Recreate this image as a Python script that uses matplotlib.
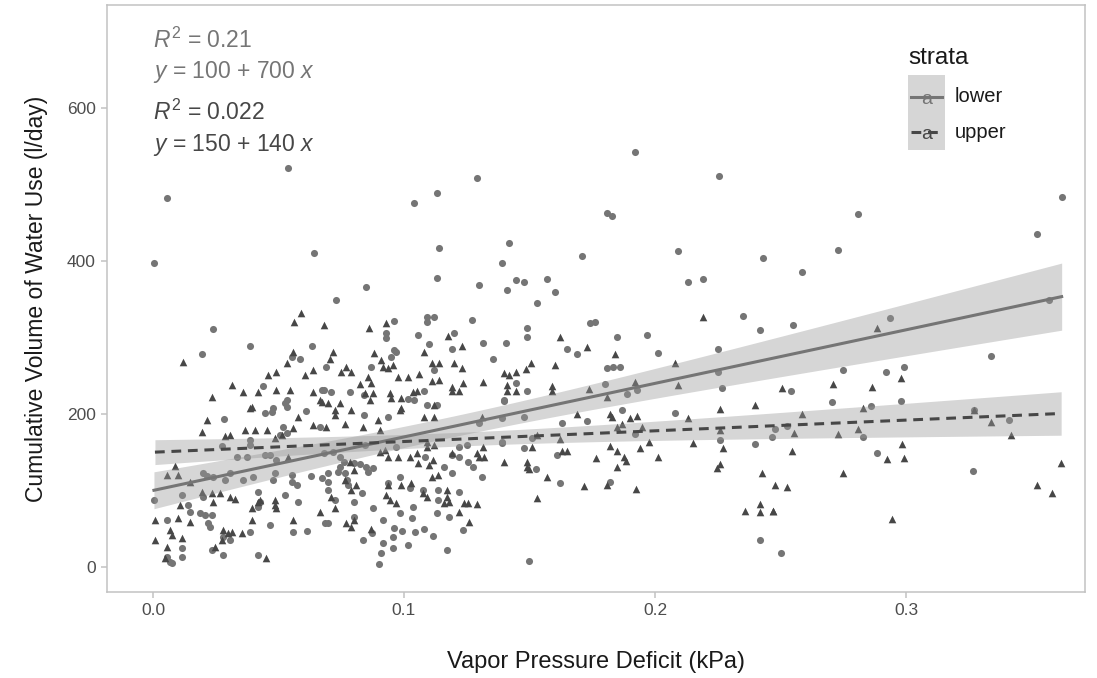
import numpy as np
import matplotlib
matplotlib.use("Agg")
import matplotlib.pyplot as plt
from matplotlib.patches import Rectangle
from matplotlib.lines import Line2D

plt.rcParams["font.family"] = ["Liberation Sans", "DejaVu Sans"]
plt.rcParams["mathtext.fontset"] = "custom"
plt.rcParams["mathtext.rm"] = "Liberation Sans"
plt.rcParams["mathtext.it"] = "Liberation Sans:italic"

# lower canopy trees
lower_vpd = [
    0.054, 0.0056, 0.0004, 0.064, 0.104, 0.113, 0.114, 0.113, 0.085, 0.073,
    0.096, 0.109, 0.112, 0.109, 0.024, 0.129, 0.192, 0.2255, 0.181, 0.183,
    0.142, 0.139, 0.130, 0.141, 0.1446, 0.148, 0.157, 0.160, 0.153, 0.171,
    0.209, 0.243, 0.213, 0.219, 0.127, 0.149, 0.174, 0.176, 0.197, 0.235,
    0.242, 0.362, 0.281, 0.352, 0.273, 0.2586, 0.255, 0.2936, 0.357, 0.334,
    0.275, 0.292, 0.299, 0.254, 0.2705, 0.286, 0.298, 0.327, 0.341, 0.248,
    0.2526, 0.2466, 0.283, 0.2884, 0.3267, 0.250, 0.149, 0.1406, 0.185, 0.165,
    0.169, 0.201, 0.225, 0.181, 0.1833, 0.186, 0.1446, 0.149, 0.140, 0.180,
    0.189, 0.193, 0.225, 0.2267, 0.148, 0.163, 0.173, 0.187, 0.208, 0.139,
    0.148, 0.151, 0.1526, 0.161, 0.162, 0.182, 0.192, 0.226, 0.240, 0.150,
    0.242, 0.139, 0.093, 0.093, 0.1056, 0.110, 0.119, 0.120, 0.1315, 0.1355,
    0.069, 0.087, 0.112, 0.096, 0.097, 0.095, 0.068, 0.071, 0.0785, 0.084,
    0.1016, 0.104, 0.108, 0.109, 0.113, 0.140, 0.084, 0.0936, 0.0665, 0.130,
    0.139, 0.125, 0.0845, 0.097, 0.068, 0.0717, 0.0745, 0.076, 0.0745, 0.0737,
    0.080, 0.0825, 0.085, 0.0857, 0.0876, 0.0765, 0.0773, 0.0777, 0.0697, 0.0697,
    0.0697, 0.1084, 0.116, 0.119, 0.119, 0.122, 0.122, 0.1255, 0.1275, 0.131,
    0.0984, 0.1024, 0.0936, 0.1076, 0.1135, 0.122, 0.0833, 0.0876, 0.080, 0.0725,
    0.0697, 0.080, 0.0916, 0.0984, 0.1032, 0.113, 0.118, 0.1235, 0.096, 0.0992,
    0.1044, 0.108, 0.1116, 0.0956, 0.0873, 0.0837, 0.0916, 0.0956, 0.1016, 0.0908,
    0.090, 0.117, 0.1036, 0.1135, 0.0386, 0.0195, 0.0633, 0.0586, 0.0554, 0.0438,
    0.0534, 0.0526, 0.0534, 0.0478, 0.0474, 0.0446, 0.061, 0.0673, 0.0283, 0.052,
    0.0534, 0.0506, 0.0386, 0.0386, 0.0275, 0.0446, 0.0466, 0.049, 0.0335, 0.0375,
    0.0307, 0.020, 0.0215, 0.024, 0.0287, 0.0359, 0.040, 0.0486, 0.048, 0.0554,
    0.0554, 0.0574, 0.063, 0.0673, 0.0116, 0.0004, 0.020, 0.042, 0.0526, 0.0578,
    0.0426, 0.042, 0.014, 0.0147, 0.0187, 0.0207, 0.0235, 0.022, 0.0227, 0.0056,
    0.0386, 0.0466, 0.0558, 0.0614, 0.0116, 0.0116, 0.0056, 0.0068, 0.0076, 0.0235,
    0.0279, 0.042, 0.0685, 0.0307, 0.0279,
]
lower_use = [
    522, 482, 397, 410, 476, 489, 417, 378, 366, 349,
    322, 327, 327, 320, 311, 508, 542, 511, 463, 459,
    424, 397, 369, 362, 375, 373, 376, 360, 345, 407,
    413, 404, 373, 376, 323, 312, 319, 320, 303, 328,
    310, 484, 461, 435, 414, 385, 316, 325, 349, 276,
    257, 255, 262, 230, 216, 210, 217, 205, 192, 180,
    184, 170, 170, 149, 125, 18, 301, 293, 301, 285,
    278, 280, 285, 260, 261, 261, 240, 230, 217, 239,
    226, 231, 255, 234, 196, 188, 191, 205, 201, 162,
    155, 169, 128, 146, 110, 111, 174, 166, 161, 8,
    35, 195, 306, 299, 303, 291, 285, 306, 293, 272,
    261, 261, 258, 284, 281, 275, 231, 229, 229, 225,
    220, 218, 230, 212, 212, 218, 199, 196, 183, 188,
    163, 159, 159, 157, 149, 150, 144, 137, 131, 124,
    136, 135, 131, 124, 129, 123, 114, 107, 123, 111,
    101, 144, 131, 123, 146, 144, 157, 137, 131, 118,
    118, 103, 110, 101, 101, 98, 97, 77, 85, 88,
    58, 65, 61, 71, 64, 71, 65, 48, 51, 47,
    46, 50, 41, 39, 44, 35, 31, 25, 29, 18,
    4, 22, 78, 88, 289, 278, 289, 272, 274, 237,
    218, 214, 209, 208, 203, 201, 204, 231, 193, 183,
    175, 172, 166, 159, 158, 146, 146, 140, 144, 144,
    123, 123, 119, 118, 114, 114, 118, 123, 114, 120,
    111, 107, 119, 116, 94, 88, 92, 98, 94, 85,
    85, 78, 81, 72, 71, 68, 68, 58, 52, 61,
    46, 55, 46, 47, 25, 13, 13, 6.5, 5, 22,
    16, 16, 58, 35, 39,
]

# upper canopy trees
upper_vpd = [
    0.059, 0.056, 0.068, 0.086, 0.093, 0.219, 0.2884, 0.2506, 0.271, 0.2865,
    0.298, 0.2586, 0.283, 0.327, 0.334, 0.2554, 0.273, 0.281, 0.342, 0.2546,
    0.2984, 0.2924, 0.299, 0.275, 0.248, 0.2526, 0.247, 0.2944, 0.3618, 0.352,
    0.358, 0.162, 0.173, 0.184, 0.1506, 0.1486, 0.140, 0.142, 0.1446, 0.141,
    0.141, 0.1446, 0.159, 0.159, 0.160, 0.192, 0.1737, 0.181, 0.208, 0.209,
    0.226, 0.240, 0.169, 0.182, 0.183, 0.190, 0.193, 0.213, 0.185, 0.187,
    0.195, 0.153, 0.162, 0.182, 0.194, 0.1976, 0.151, 0.215, 0.227, 0.226,
    0.140, 0.149, 0.149, 0.150, 0.163, 0.165, 0.1765, 0.185, 0.1876, 0.1885,
    0.201, 0.185, 0.157, 0.1717, 0.181, 0.1924, 0.153, 0.2247, 0.226, 0.2426,
    0.236, 0.242, 0.247, 0.242, 0.108, 0.1175, 0.123, 0.0717, 0.0705, 0.088,
    0.091, 0.077, 0.079, 0.075, 0.0916, 0.0936, 0.0956, 0.111, 0.114, 0.120,
    0.123, 0.0857, 0.1016, 0.106, 0.0976, 0.0825, 0.087, 0.111, 0.114, 0.119,
    0.119, 0.1235, 0.1315, 0.122, 0.0665, 0.0697, 0.0745, 0.0725, 0.0725, 0.079,
    0.0845, 0.0865, 0.0876, 0.0944, 0.095, 0.099, 0.0984, 0.099, 0.1036, 0.105,
    0.112, 0.112, 0.108, 0.131, 0.069, 0.0765, 0.0837, 0.0896, 0.0904, 0.0904,
    0.0924, 0.0936, 0.0976, 0.1024, 0.105, 0.1056, 0.109, 0.109, 0.112, 0.1116,
    0.110, 0.119, 0.129, 0.130, 0.132, 0.1315, 0.0785, 0.080, 0.0765, 0.081,
    0.079, 0.071, 0.0725, 0.0936, 0.099, 0.103, 0.111, 0.1135, 0.1076, 0.109,
    0.093, 0.0944, 0.097, 0.117, 0.118, 0.116, 0.124, 0.1255, 0.129, 0.117,
    0.122, 0.126, 0.077, 0.080, 0.079, 0.087, 0.0665, 0.012, 0.0235, 0.0215,
    0.0195, 0.0315, 0.0359, 0.042, 0.049, 0.0546, 0.0458, 0.049, 0.0534, 0.0558,
    0.0606, 0.0637, 0.0394, 0.0386, 0.0637, 0.0673, 0.0367, 0.0406, 0.0454, 0.0287,
    0.0307, 0.0578, 0.0637, 0.0558, 0.0486, 0.0514, 0.0538, 0.0088, 0.0056, 0.010,
    0.0147, 0.0195, 0.0235, 0.0267, 0.0307, 0.0327, 0.0108, 0.024, 0.0394, 0.042,
    0.0426, 0.0486, 0.0486, 0.049, 0.0008, 0.010, 0.0147, 0.0068, 0.0076, 0.0116,
    0.0008, 0.0056, 0.0048, 0.0279, 0.0275, 0.030, 0.0315, 0.0355, 0.0558, 0.045,
    0.0247, 0.0394,
]
upper_use = [
    332, 320, 316, 312, 319, 327, 312, 234, 239, 235,
    247, 200, 208, 205, 190, 175, 174, 180, 172, 152,
    161, 141, 142, 123, 107, 105, 73, 63, 136, 107,
    97, 301, 288, 278, 267, 259, 254, 251, 255, 238,
    230, 230, 237, 230, 264, 242, 233, 222, 267, 238,
    206, 212, 200, 200, 196, 195, 197, 195, 183, 187,
    183, 172, 167, 158, 155, 163, 157, 162, 155, 179,
    137, 137, 131, 128, 152, 152, 142, 152, 144, 139,
    144, 131, 118, 106, 107, 102, 90, 129, 135, 123,
    73, 72, 73, 82, 281, 302, 289, 281, 272, 280,
    271, 261, 255, 255, 261, 260, 264, 267, 267, 267,
    260, 248, 248, 252, 248, 239, 240, 243, 244, 235,
    230, 240, 242, 230, 218, 214, 214, 205, 199, 205,
    227, 218, 227, 227, 221, 221, 205, 208, 229, 230,
    212, 196, 196, 196, 183, 187, 183, 192, 179, 150,
    153, 144, 144, 144, 149, 136, 157, 163, 159, 140,
    133, 149, 149, 144, 144, 157, 137, 127, 114, 107,
    101, 92, 77, 107, 107, 110, 118, 120, 97, 92,
    94, 88, 84, 92, 85, 84, 84, 84, 82, 101,
    72, 59, 58, 61, 52, 50, 72, 268, 222, 192,
    176, 238, 229, 229, 231, 231, 251, 255, 267, 281,
    251, 258, 209, 208, 229, 216, 179, 179, 179, 171,
    172, 196, 186, 182, 169, 173, 144, 132, 120, 120,
    111, 98, 97, 97, 92, 89, 81, 85, 77, 85,
    88, 88, 81, 77, 61, 64, 59, 48, 42, 38,
    35, 26, 12, 48, 35, 44, 46, 44, 61, 12,
    26, 61,
]

# fitted equations reported on the panel
strata = ["lower", "upper"]
intercepts = [100, 150]
slopes = [700, 140]
r_squared = ["0.21", "0.022"]

colors = {"lower": "#757575", "upper": "#474747"}
markers = {"lower": "o", "upper": "^"}
linestyles = {"lower": "-", "upper": (0, (3.2, 2.2))}

fig = plt.figure(figsize=(10.97, 6.78), dpi=100)
ax = fig.add_axes([107 / 1097, 86 / 678, 978 / 1097, 587 / 678])

groups = {"lower": (lower_vpd, lower_use), "upper": (upper_vpd, upper_use)}

for name in strata:
    x = np.asarray(groups[name][0], dtype=float)
    y = np.asarray(groups[name][1], dtype=float)
    ax.scatter(x, y, s=26 if name == "lower" else 30, marker=markers[name],
               color=colors[name], linewidths=0, zorder=2)

for name, b0, b1 in zip(strata, intercepts, slopes):
    x = np.asarray(groups[name][0], dtype=float)
    y = np.asarray(groups[name][1], dtype=float)
    n = len(x)
    resid = y - (b0 + b1 * x)
    s = np.sqrt(np.sum(resid ** 2) / (n - 2))
    sxx = np.sum((x - x.mean()) ** 2)
    xs = np.linspace(x.min(), x.max(), 80)
    fit = b0 + b1 * xs
    se = s * np.sqrt(1 / n + (xs - x.mean()) ** 2 / sxx)
    ax.fill_between(xs, fit - 1.97 * se, fit + 1.97 * se, color="#999999",
                    alpha=0.4, linewidth=0, zorder=3)
    ax.plot(xs, fit, color=colors[name], linestyle=linestyles[name],
            linewidth=2.2, zorder=4)

ax.set_xlim(-0.0183, 0.3713)
ax.set_ylim(-32.7, 734.6)
ax.set_xticks([0.0, 0.1, 0.2, 0.3])
ax.set_xticklabels(["0.0", "0.1", "0.2", "0.3"])
ax.set_yticks([0, 200, 400, 600])
for sp in ax.spines.values():
    sp.set_color("#c2c2c2")
    sp.set_linewidth(1.1)
ax.tick_params(colors="#c2c2c2", labelcolor="#4d4d4d", labelsize=12.5,
               length=4, width=1.1, pad=4)
ax.set_xlabel("Vapor Pressure Deficit (kPa)", fontsize=17, color="#1a1a1a",
              labelpad=24)
ax.set_ylabel("Cumulative Volume of Water Use (l/day)", fontsize=16.5,
              color="#1a1a1a", labelpad=14)

# equation labels, one pair per stratum
eq_y = [0.940, 0.886, 0.818, 0.761]
for i, name in enumerate(strata):
    ax.text(0.047, eq_y[2 * i], r"$R^2$ = " + r_squared[i], transform=ax.transAxes,
            fontsize=16.5, color=colors[name], va="center")
    ax.text(0.047, eq_y[2 * i + 1],
            r"$y$ = %d + %d $x$" % (intercepts[i], slopes[i]),
            transform=ax.transAxes, fontsize=16.5, color=colors[name], va="center")

# legend drawn in figure coordinates
fig.text(908 / 1097, 1 - 58 / 678, "strata", fontsize=17.5, color="#1a1a1a",
         va="center", ha="left")
fig.add_artist(Rectangle((908 / 1097, 1 - 150 / 678), 37 / 1097, 75 / 678,
                         transform=fig.transFigure, color="#d6d6d6", linewidth=0))
for i, name in enumerate(strata):
    yk = 1 - (97 + 35 * i) / 678
    fig.add_artist(Line2D([911 / 1097, 942 / 1097], [yk, yk], transform=fig.transFigure,
                          color=colors[name], linestyle=linestyles[name], linewidth=2.2))
    fig.text(926.5 / 1097, yk - 0.004, "a", fontsize=14, color=colors[name],
             ha="center", va="center")
    fig.text(955 / 1097, yk, name, fontsize=14.5, color="#1a1a1a", va="center")

fig.savefig("out.png", dpi=100)
plt.close(fig)
